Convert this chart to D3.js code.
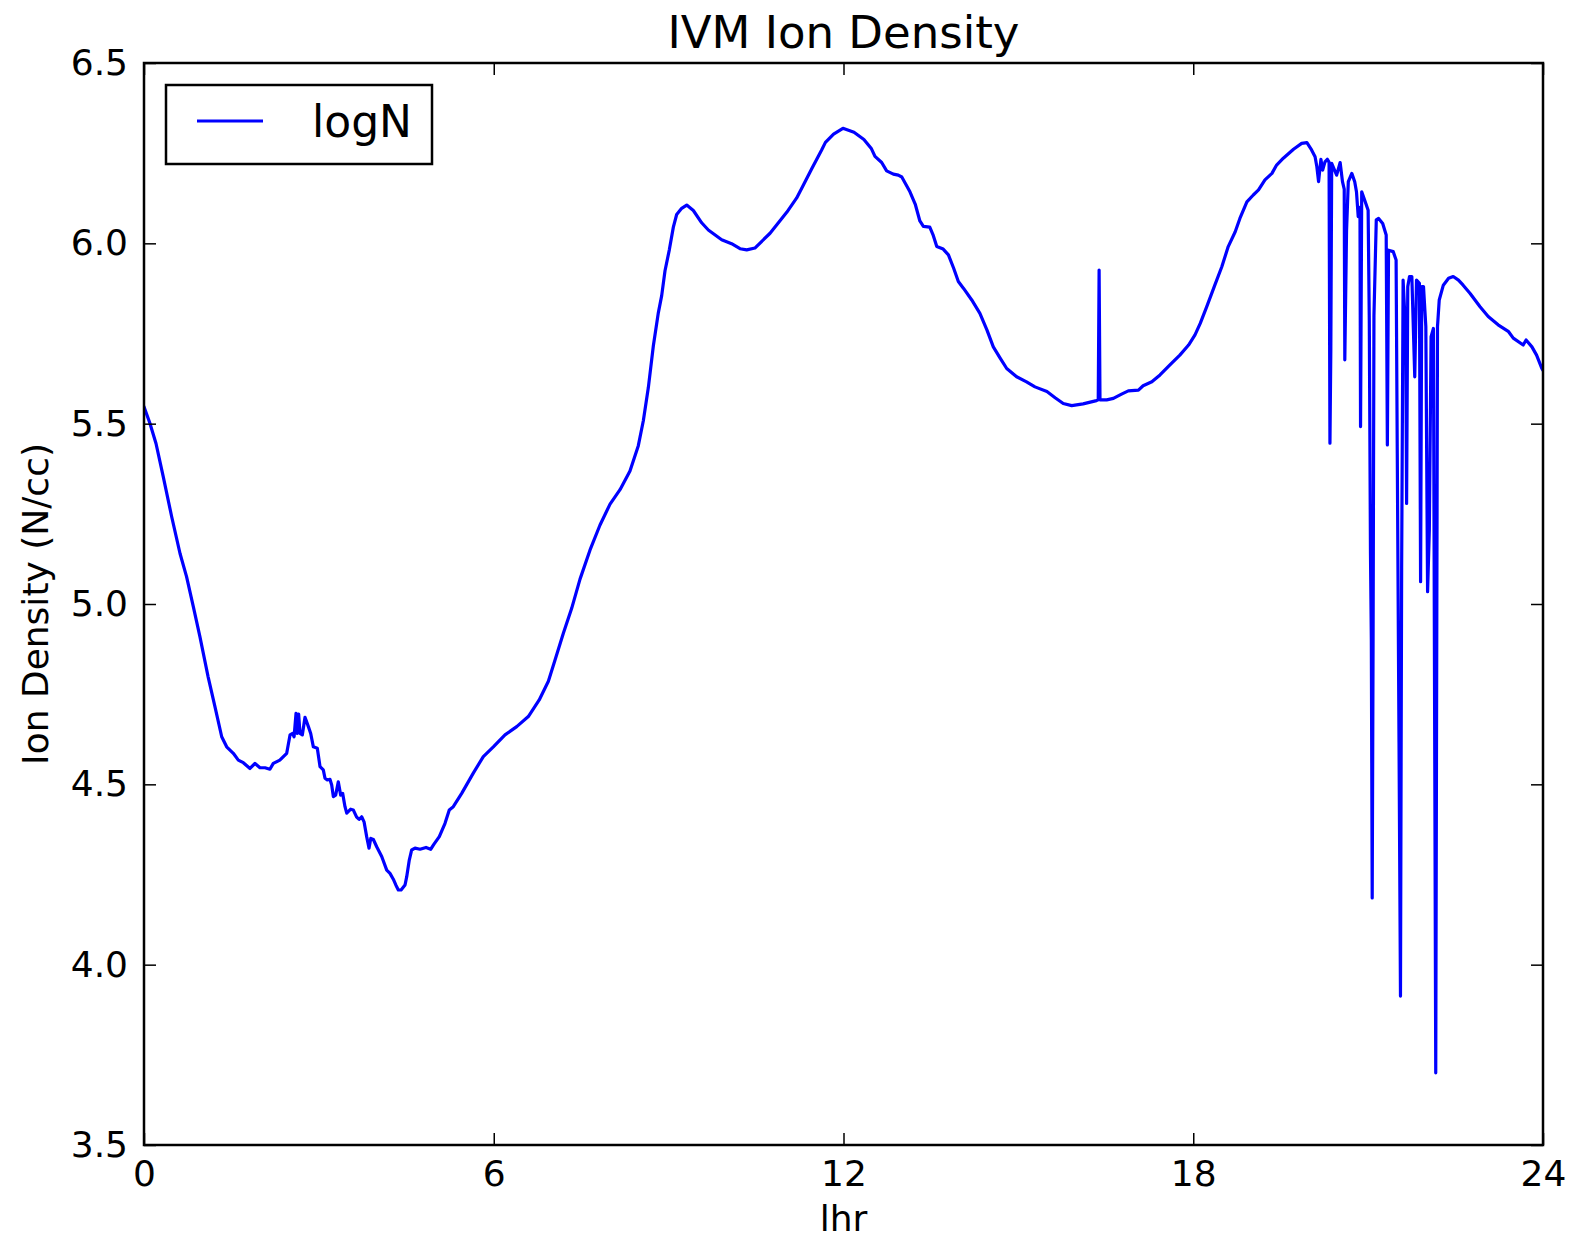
<!DOCTYPE html>
<html>
<head>
  <title>IVM Ion Density</title>
  <script src="https://d3js.org/d3.v7.min.js"></script>
  <style>
    body { margin: 0; background: #fff; }
    text { font-family: "DejaVu Sans", sans-serif; fill: #000; }
  </style>
</head>
<body>

<script>
// hour values
var hours = [
  0, 0.1, 0.206, 0.33, 0.475, 0.618, 0.73, 0.846, 0.96, 1.10, 1.218, 1.333, 1.418, 1.532, 1.618, 1.704,
  1.818, 1.904, 1.99, 2.076, 2.16, 2.218, 2.33, 2.448, 2.505, 2.55, 2.575, 2.608, 2.63, 2.653, 2.676, 2.716,
  2.762, 2.82, 2.86, 2.905, 2.973, 3.02, 3.076, 3.105, 3.145, 3.19, 3.22, 3.248, 3.288, 3.333, 3.374, 3.408,
  3.448, 3.478, 3.546, 3.59, 3.648, 3.69, 3.734, 3.775, 3.82, 3.86, 3.89, 3.935, 3.992, 4.078, 4.164, 4.22,
  4.277, 4.32, 4.363, 4.41, 4.478, 4.507, 4.551, 4.592, 4.649, 4.735, 4.838, 4.918, 4.975, 5.066, 5.164, 5.237,
  5.306, 5.45, 5.649, 5.821, 5.993, 6.193, 6.394, 6.593, 6.78, 6.937, 7.05, 7.194, 7.337, 7.48, 7.652, 7.823,
  7.995, 8.166, 8.337, 8.48, 8.566, 8.652, 8.738, 8.824, 8.881, 8.938, 9.012, 9.081, 9.138, 9.224, 9.31, 9.424,
  9.567, 9.681, 9.91, 10.08, 10.225, 10.34, 10.48, 10.74, 11.026, 11.197, 11.31, 11.455, 11.625, 11.69, 11.83, 11.99,
  12.18, 12.35, 12.48, 12.54, 12.655, 12.74, 12.855, 12.94, 13.0, 13.14, 13.23, 13.31, 13.37, 13.48, 13.54, 13.6,
  13.71, 13.8, 13.89, 13.97, 14.06, 14.2, 14.34, 14.46, 14.57, 14.69, 14.8, 14.97, 15.14, 15.285, 15.49, 15.63,
  15.77, 15.915, 16.11, 16.34, 16.37, 16.385, 16.40, 16.515, 16.63, 16.77, 16.886, 17.06, 17.14, 17.29, 17.43, 17.6,
  17.77, 17.92, 18.03, 18.12, 18.23, 18.37, 18.49, 18.6, 18.72, 18.8, 18.92, 19.03, 19.12, 19.23, 19.35, 19.43,
  19.545, 19.72, 19.86, 19.95, 20.03, 20.09, 20.12, 20.15, 20.19, 20.22, 20.26, 20.30, 20.33, 20.345, 20.36, 20.375,
  20.46, 20.52, 20.56, 20.59, 20.60, 20.63, 20.66, 20.72, 20.77, 20.80, 20.83, 20.86, 20.87, 20.89, 20.94, 21.0,
  21.02, 21.04, 21.055, 21.07, 21.085, 21.10, 21.14, 21.18, 21.25, 21.31, 21.33, 21.35, 21.43, 21.48, 21.50, 21.53,
  21.555, 21.575, 21.60, 21.645, 21.66, 21.68, 21.71, 21.75, 21.80, 21.83, 21.88, 21.90, 21.92, 21.95, 21.99, 22.02,
  22.05, 22.08, 22.12, 22.16, 22.19, 22.22, 22.29, 22.38, 22.46, 22.55, 22.63, 22.75, 22.92, 23.06, 23.23, 23.41,
  23.49, 23.66, 23.71, 23.81, 23.89, 23.98, 24.0
];

// logN values, one per hour above
var logN = [
  5.547, 5.502, 5.445, 5.353, 5.242, 5.140, 5.076, 4.993, 4.909, 4.798, 4.715, 4.632, 4.604, 4.586, 4.567, 4.560,
  4.544, 4.558, 4.546, 4.546, 4.542, 4.558, 4.567, 4.586, 4.637, 4.641, 4.632, 4.697, 4.641, 4.695, 4.641, 4.637,
  4.686, 4.660, 4.641, 4.604, 4.600, 4.549, 4.540, 4.517, 4.512, 4.514, 4.498, 4.466, 4.470, 4.507, 4.470, 4.475,
  4.438, 4.420, 4.431, 4.429, 4.409, 4.403, 4.410, 4.396, 4.355, 4.323, 4.350, 4.347, 4.327, 4.300, 4.262, 4.253,
  4.237, 4.221, 4.207, 4.207, 4.221, 4.244, 4.290, 4.318, 4.323, 4.320, 4.325, 4.320, 4.334, 4.355, 4.392, 4.429,
  4.438, 4.475, 4.531, 4.577, 4.604, 4.637, 4.660, 4.688, 4.734, 4.786, 4.844, 4.919, 4.988, 5.069, 5.150, 5.219,
  5.277, 5.317, 5.369, 5.439, 5.508, 5.600, 5.716, 5.808, 5.855, 5.924, 5.982, 6.045, 6.080, 6.097, 6.106, 6.091,
  6.057, 6.037, 6.010, 5.999, 5.985, 5.982, 5.987, 6.028, 6.086, 6.126, 6.161, 6.207, 6.259, 6.280, 6.303, 6.319,
  6.308, 6.288, 6.262, 6.241, 6.224, 6.201, 6.192, 6.189, 6.184, 6.143, 6.109, 6.062, 6.047, 6.045, 6.022, 5.991,
  5.984, 5.968, 5.931, 5.894, 5.875, 5.843, 5.806, 5.760, 5.713, 5.681, 5.653, 5.630, 5.616, 5.602, 5.589, 5.572,
  5.556, 5.550, 5.555, 5.564, 5.566, 5.926, 5.566, 5.566, 5.570, 5.582, 5.591, 5.593, 5.605, 5.616, 5.635, 5.663,
  5.690, 5.718, 5.746, 5.778, 5.824, 5.884, 5.935, 5.991, 6.032, 6.069, 6.115, 6.134, 6.148, 6.176, 6.194, 6.217,
  6.236, 6.261, 6.277, 6.279, 6.259, 6.240, 6.213, 6.171, 6.233, 6.203, 6.226, 6.233, 6.225, 5.446, 5.704, 6.222,
  6.189, 6.224, 6.171, 6.150, 5.677, 6.036, 6.171, 6.194, 6.171, 6.143, 6.074, 6.100, 5.492, 6.143, 6.120, 6.092,
  5.787, 5.145, 4.900, 4.185, 4.900, 5.800, 6.065, 6.069, 6.055, 6.023, 5.441, 5.981, 5.977, 5.954, 5.418, 4.617,
  3.913, 5.100, 5.898, 5.750, 5.279, 5.880, 5.908, 5.908, 5.630, 5.898, 5.889, 5.062, 5.880, 5.880, 5.769, 5.034,
  5.205, 5.741, 5.764, 3.700, 5.769, 5.843, 5.884, 5.903, 5.908, 5.898, 5.884, 5.861, 5.824, 5.797, 5.774, 5.755,
  5.737, 5.718, 5.732, 5.713, 5.690, 5.653, 5.648
];

// tick labels
var xTicks = [0, 6, 12, 18, 24];
var yTicks = [3.5, 4.0, 4.5, 5.0, 5.5, 6.0, 6.5];

var data = hours.map(function(h, i) { return { x: h, y: logN[i] }; });

// SVG area
var W = 1594, H = 1242;
var margin = { top: 63, right: 51, bottom: 97, left: 144 },
    width = W - margin.left - margin.right,
    height = H - margin.top - margin.bottom;

var xScale = d3.scaleLinear().domain([0, 24]).range([0, width]);
var yScale = d3.scaleLinear().domain([3.5, 6.5]).range([height, 0]);

var svg = d3.select("body").append("svg")
    .attr("width", W)
    .attr("height", H);

var g = svg.append("g")
    .attr("transform", "translate(" + margin.left + "," + margin.top + ")");

g.append("clipPath").attr("id", "clip")
  .append("rect").attr("width", width).attr("height", height);

// data line
var line = d3.line()
    .x(function(d) { return xScale(d.x); })
    .y(function(d) { return yScale(d.y); });

g.append("path")
    .datum(data)
    .attr("clip-path", "url(#clip)")
    .attr("d", line)
    .attr("fill", "none")
    .attr("stroke", "#0000ff")
    .attr("stroke-width", 3.2)
    .attr("stroke-linejoin", "round")
    .attr("stroke-linecap", "round");

// axes with inward ticks (all four sides)
function styleAxis(sel) {
  sel.select(".domain").remove();
  sel.selectAll(".tick line").attr("stroke", "#000").attr("stroke-width", 1.5);
  sel.selectAll(".tick text").style("font-size", "36px").attr("fill", "#000");
}

g.append("g")
    .attr("transform", "translate(0," + height + ")")
    .call(d3.axisBottom(xScale).tickValues(xTicks).tickFormat(d3.format("d"))
      .tickSizeInner(-12).tickSizeOuter(0).tickPadding(15))
    .call(styleAxis);

g.append("g")
    .call(d3.axisTop(xScale).tickValues(xTicks).tickFormat("")
      .tickSizeInner(-12).tickSizeOuter(0))
    .call(styleAxis);

g.append("g")
    .call(d3.axisLeft(yScale).tickValues(yTicks).tickFormat(d3.format(".1f"))
      .tickSizeInner(-12).tickSizeOuter(0).tickPadding(16))
    .call(styleAxis);

g.append("g")
    .attr("transform", "translate(" + width + ",0)")
    .call(d3.axisRight(yScale).tickValues(yTicks).tickFormat("")
      .tickSizeInner(-12).tickSizeOuter(0))
    .call(styleAxis);

// frame
g.append("rect")
    .attr("width", width)
    .attr("height", height)
    .attr("fill", "none")
    .attr("stroke", "#000")
    .attr("stroke-width", 2.5);

// title and axis labels
svg.append("text")
    .attr("x", margin.left + width / 2)
    .attr("y", 48)
    .attr("text-anchor", "middle")
    .style("font-size", "45px")
    .text("IVM Ion Density");

svg.append("text")
    .attr("x", margin.left + width / 2)
    .attr("y", 1231)
    .attr("text-anchor", "middle")
    .style("font-size", "36px")
    .text("lhr");

svg.append("text")
    .attr("transform", "translate(48," + (margin.top + height / 2) + ") rotate(-90)")
    .attr("text-anchor", "middle")
    .style("font-size", "36px")
    .text("Ion Density (N/cc)");

// legend
var legend = svg.append("g");
legend.append("rect")
    .attr("x", 166).attr("y", 85)
    .attr("width", 266).attr("height", 79)
    .attr("fill", "#fff")
    .attr("stroke", "#000")
    .attr("stroke-width", 2.5);
legend.append("line")
    .attr("x1", 197).attr("x2", 263)
    .attr("y1", 121).attr("y2", 121)
    .attr("stroke", "#0000ff")
    .attr("stroke-width", 3.2);
legend.append("text")
    .attr("x", 312).attr("y", 137)
    .style("font-size", "44px")
    .text("logN");
</script>

</body>
</html>
